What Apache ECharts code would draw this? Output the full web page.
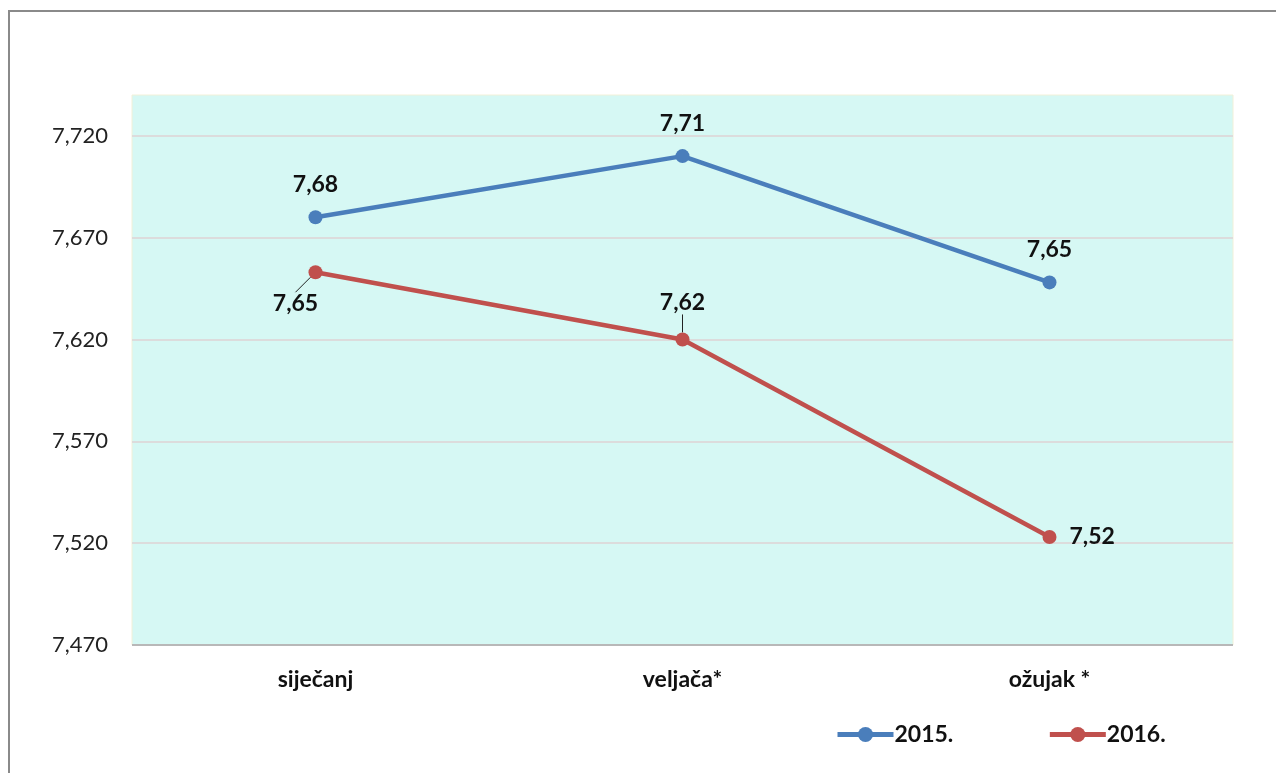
<!DOCTYPE html>
<html>
<head>
<meta charset="utf-8">
<script src="https://cdn.jsdelivr.net/npm/echarts@6/dist/echarts.min.js"></script>
<style>
  html, body { margin: 0; padding: 0; background: #fff; overflow: hidden; }
  #frame { position: absolute; left: 8px; top: 10px; width: 1400px; height: 900px;
           border-left: 2px solid #8a8a8a; border-top: 2px solid #8a8a8a; }
  #chart { position: absolute; left: 0; top: 0; width: 1276px; height: 773px; }
</style>
</head>
<body>
<div id="frame"></div>
<div id="chart"></div>
<script>
// kategorije i vrijednosti
var months = ['siječanj', 'veljača*', 'ožujak *'];
var seriesNames = ['2015.', '2016.'];
var values2015 = [7.680, 7.710, 7.648];
var values2016 = [7.653, 7.620, 7.523];
var yTicks = [7.47, 7.52, 7.57, 7.62, 7.67, 7.72];

var FONT = 'Lato, "Noto Sans", sans-serif';

function fmt2(v) { return v.toFixed(2).replace('.', ','); }
function fmt3(v) { return v.toFixed(3).replace('.', ','); }

var myChart = echarts.init(document.getElementById('chart'));

// odmaci natpisa za 2016. (siječanj dolje lijevo, veljača gore, ožujak desno)
var label2016 = [
    { position: 'bottom', distance: 11 },
    { position: 'top', distance: 17 },
    { position: 'right', distance: 13 }
];

var option = {
    animation: false,
    textStyle: { fontFamily: FONT },
    grid: {
        left: 132, right: 43, top: 95, bottom: 128,
        show: true,
        backgroundColor: '#d6f8f4',
        borderColor: '#f2f0d8',
        borderWidth: 1
    },
    legend: {
        left: 830, top: 718,
        itemWidth: 56, itemHeight: 19, itemGap: 94,
        lineStyle: { width: 5 },
        textStyle: { fontFamily: FONT, fontSize: 23, fontWeight: 'bold', color: '#111', padding: [0, 0, 0, -4] },
        data: seriesNames
    },
    xAxis: {
        type: 'category',
        data: months,
        boundaryGap: true,
        axisLine: { show: false },
        axisTick: { show: false },
        axisLabel: { fontFamily: FONT, fontSize: 23, fontWeight: 'bold', color: '#111', margin: 23 }
    },
    yAxis: {
        type: 'value',
        min: yTicks[0],
        max: 7.74,
        interval: 0.05,
        axisLine: { show: false },
        axisTick: { show: false },
        axisLabel: {
            fontFamily: FONT, fontSize: 22, color: '#222', margin: 24,
            formatter: function (v) { return v > yTicks[yTicks.length - 1] + 0.001 ? '' : fmt3(v); }
        },
        splitLine: {
            lineStyle: {
                width: 2,
                color: ['#b8b8b8', '#dcdcdc', '#dcdcdc', '#dcdcdc', '#dcdcdc', '#dcdcdc', 'rgba(0,0,0,0)']
            }
        }
    },
    series: [
        {
            name: seriesNames[0],
            type: 'line',
            data: values2015,
            color: '#4a7ebb',
            symbol: 'circle',
            symbolSize: 14,
            lineStyle: { width: 4.5 },
            label: {
                show: true, position: 'top', distance: 14,
                fontFamily: FONT, fontSize: 23, fontWeight: 'bold', color: '#111',
                formatter: function (p) { return fmt2(p.value); }
            }
        },
        {
            name: seriesNames[1],
            type: 'line',
            data: values2016.map(function (v, i) {
                return { value: v, label: label2016[i], labelLine: { show: i < 2 } };
            }),
            color: '#c0504d',
            symbol: 'circle',
            symbolSize: 14,
            lineStyle: { width: 4.5 },
            label: {
                show: true,
                fontFamily: FONT, fontSize: 23, fontWeight: 'bold', color: '#111',
                formatter: function (p) { return fmt2(p.value); }
            },
            labelLine: { show: true, lineStyle: { color: '#222', width: 1 } },
            labelLayout: function (p) {
                if (p.dataIndex === 0) return { dx: -20, dy: 2 };
                if (p.dataIndex === 1) return { dy: -1 };
                return {};
            }
        }
    ]
};

myChart.setOption(option);
</script>
</body>
</html>
